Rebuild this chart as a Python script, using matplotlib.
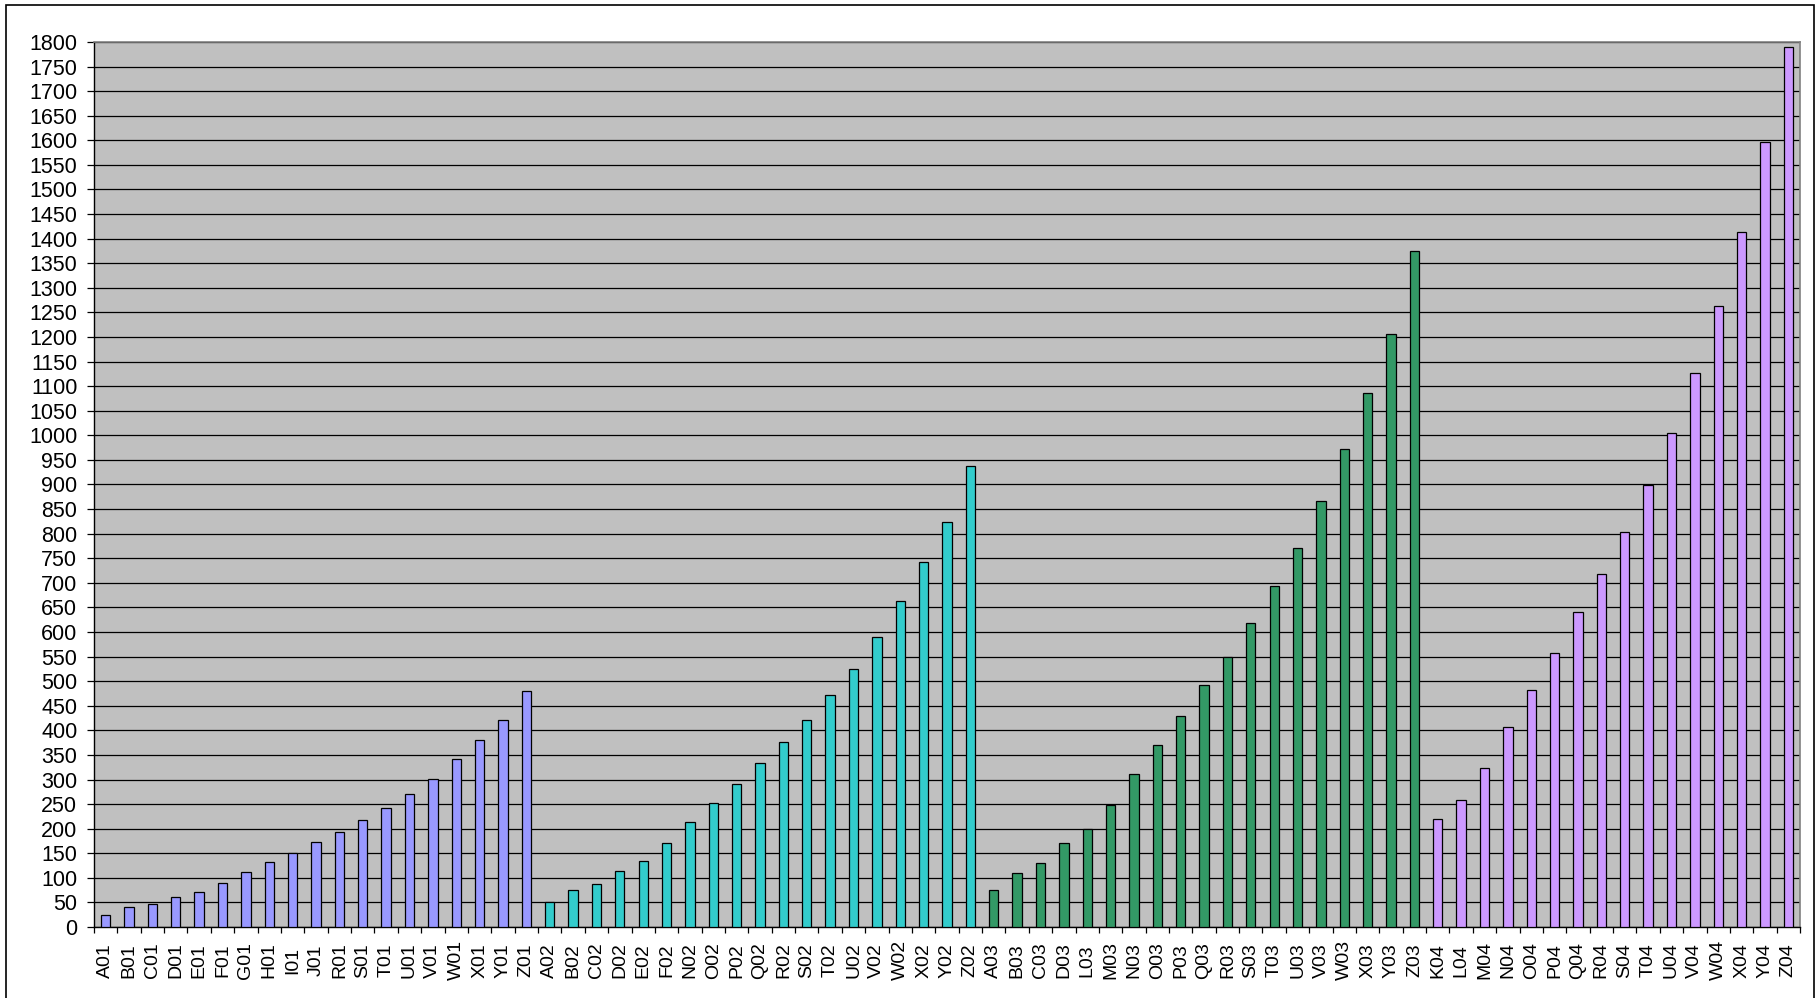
"""Excel-style grouped bar chart, static PNG."""

import matplotlib

matplotlib.use("Agg")

import matplotlib.pyplot as plt
import numpy as np
from matplotlib.patches import Rectangle

plt.rcParams["font.family"] = ["Liberation Sans", "DejaVu Sans"]

# --- Data ---
labels_01 = ["A01", "B01", "C01", "D01", "E01", "F01", "G01", "H01", "I01", "J01",
             "R01", "S01", "T01", "U01", "V01", "W01", "X01", "Y01", "Z01"]
values_01 = [25, 40, 47, 61, 71, 89, 111, 133, 151, 172,
             193, 218, 242, 271, 302, 341, 380, 422, 479]

labels_02 = ["A02", "B02", "C02", "D02", "E02", "F02", "N02", "O02", "P02", "Q02",
             "R02", "S02", "T02", "U02", "V02", "W02", "X02", "Y02", "Z02"]
values_02 = [50, 75, 88, 114, 135, 171, 213, 252, 291, 333,
             376, 422, 472, 525, 590, 664, 742, 823, 937]

labels_03 = ["A03", "B03", "C03", "D03", "L03", "M03", "N03", "O03", "P03", "Q03",
             "R03", "S03", "T03", "U03", "V03", "W03", "X03", "Y03", "Z03"]
values_03 = [75, 110, 131, 171, 199, 249, 311, 371, 429, 493,
             550, 618, 694, 771, 867, 972, 1087, 1207, 1375]

labels_04 = ["K04", "L04", "M04", "N04", "O04", "P04", "Q04", "R04", "S04", "T04",
             "U04", "V04", "W04", "X04", "Y04", "Z04"]
values_04 = [220, 259, 323, 407, 483, 557, 640, 718, 803, 898,
             1004, 1126, 1264, 1414, 1597, 1790]

groups = [
    (labels_01, values_01, "#9999FF"),
    (labels_02, values_02, "#33CCCC"),
    (labels_03, values_03, "#339966"),
    (labels_04, values_04, "#CC99FF"),
]

W, H, DPI = 1818, 998, 100
fig = plt.figure(figsize=(W / DPI, H / DPI), dpi=DPI)
fig.patch.set_facecolor("white")

# plot area in pixels: left 94, right 1800, top 42, bottom 927
ax = fig.add_axes((94 / W, 1 - 927 / H, (1800 - 94) / W, (927 - 42) / H))
ax.set_facecolor("#C0C0C0")

all_labels = []
start = 0
for labels, values, color in groups:
    x = np.arange(start, start + len(labels))
    ax.bar(x, values, width=0.4, color=color, edgecolor="black", linewidth=0.9, zorder=3)
    all_labels.extend(labels)
    start += len(labels)

n = len(all_labels)
ax.set_xlim(-0.5, n - 0.5)
ax.set_ylim(0, 1800)

# y axis: every 50, black gridlines
ax.set_yticks(np.arange(0, 1801, 50))
ax.yaxis.grid(True, color="black", linewidth=0.9, zorder=1)
ax.set_axisbelow(True)
ax.tick_params(axis="y", direction="out", length=5, width=0.9, pad=7, labelsize=15.5)

# x axis: category labels, ticks between categories
ax.set_xticks(np.arange(n))
ax.set_xticklabels(all_labels, rotation=90, fontsize=14, va="center", ha="center")
ax.tick_params(axis="x", which="major", length=0, pad=24)
ax.set_xticks(np.arange(n + 1) - 0.5, minor=True)
ax.tick_params(axis="x", which="minor", direction="out", length=4, width=0.9)

for side in ("top", "right"):
    ax.spines[side].set_color("#808080")
    ax.spines[side].set_linewidth(1.2)
for side in ("left", "bottom"):
    ax.spines[side].set_color("black")
    ax.spines[side].set_linewidth(1.0)

# outer chart frame (bottom edge runs off the canvas)
fig.patches.append(
    Rectangle((6 / W, -0.01), (1814 - 6) / W, 1.01 - 5 / H, transform=fig.transFigure,
              fill=False, edgecolor="black", linewidth=1.2)
)

fig.savefig("out.png", dpi=DPI)
plt.close(fig)
